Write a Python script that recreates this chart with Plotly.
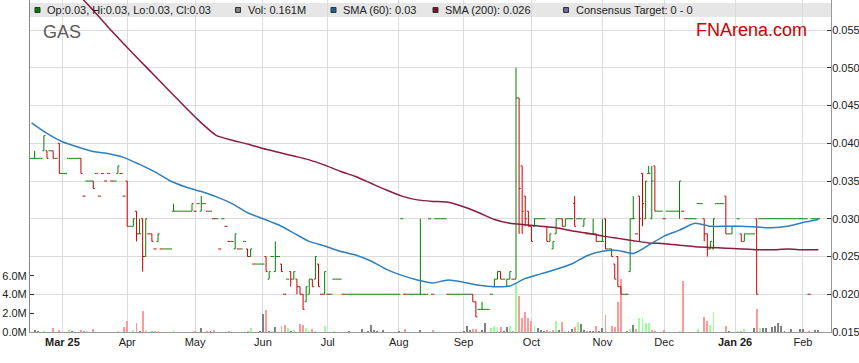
import pandas as pd
import plotly.graph_objects as go

# ---------------- data ----------------
first_day = "2025-02-17"      # first weekday shown; one bar per weekday

opens = [
 .038,.038,.038,.038,.039,  .039,.039,.039,.038,.040,  .036,.036,.038,.038,.038,
 .038,.038,.033,.035,.035,  .035,.036,.033,.036,.035,  .036,.035,.035,.036,.036,
 .033,.035,.029,.029,.031,  .028,.030,.025,.028,.028,  .026,.027,.026,.026,.026,
 .026,.031,.031,.031,.031,  .031,.031,.031,.031,.032,  .031,.032,.031,.031,.030,
 .030,.026,.030,.029,.027,  .027,.026,.026,.026,.027,  .026,.025,.024,.024,.024,
 .024,.025,.022,.025,.023,  .025,.024,.020,.022,.023,  .022,.022,.021,.020,.019,
 .020,.022,.022,.024,.020,  .020,.020,.020,.022,.022,  .022,.020,.020,.020,.020,
 .020,.020,.020,.020,.020,  .020,.020,.020,.020,.020,  .020,.020,.020,.020,.020,
 .030,.020,.020,.020,.020,  .020,.020,.020,.020,.030,  .020,.030,.030,.030,.030,
 .020,.020,.020,.020,.020,  .020,.020,.020,.020,.019,  .018,.018,.018,.018,.020,
 .021,.022,.023,.022,.021,  .022,.022,.022,.046,.037,  .033,.031,.029,.029,.030,
 .030,.030,.029,.027,.026,  .028,.030,.030,.029,.030,  .030,.032,.030,.030,.029,
 .028,.028,.028,.028,.027,  .027,.030,.026,.026,.024,  .025,.021,.020,.020,.023,
 .030,.028,.033,.036,.030,  .036,.030,.037,.031,.031,  .030,.031,.031,.031,.031,
 .031,.031,.030,.030,.030,  .030,.032,.032,.030,.028,  .026,.026,.032,.032,.032,
 .033,.028,.028,.029,.030,  .028,.027,.028,.028,.028,  .030,.030,.030,.030,.030,
 .030,.030,.030,.030,.030,  .030,.030,.030,.030,.030,  .030,.030,.020,.030,.030,
 .030,
]
highs = [
 .038,.039,.038,.038,.041,  .039,.039,.039,.038,.040,  .036,.036,.038,.038,.038,
 .038,.038,.033,.035,.035,  .035,.036,.033,.036,.035,  .036,.035,.035,.037,.036,
 .033,.035,.029,.030,.031,  .030,.030,.030,.028,.028,  .026,.028,.026,.026,.026,
 .026,.032,.031,.031,.031,  .031,.031,.032,.031,.032,  .033,.032,.031,.031,.030,
 .030,.026,.030,.029,.027,  .027,.028,.026,.026,.027,  .026,.026,.024,.024,.024,
 .024,.025,.023,.025,.027,  .025,.024,.020,.022,.023,  .023,.022,.021,.020,.021,
 .022,.022,.025,.024,.020,  .023,.020,.020,.022,.022,  .022,.020,.020,.020,.020,
 .020,.020,.020,.020,.020,  .020,.020,.020,.020,.020,  .020,.020,.020,.020,.020,
 .030,.020,.020,.020,.020,  .020,.030,.020,.020,.030,  .020,.030,.030,.030,.030,
 .020,.020,.020,.020,.020,  .020,.020,.020,.020,.019,  .018,.019,.018,.018,.020,
 .022,.023,.023,.022,.022,  .023,.022,.050,.046,.037,  .033,.031,.029,.030,.030,
 .030,.030,.029,.028,.027,  .030,.030,.030,.030,.030,  .030,.033,.030,.030,.030,
 .028,.028,.030,.028,.027,  .030,.030,.026,.026,.024,  .025,.021,.020,.020,.030,
 .033,.028,.033,.036,.035,  .037,.037,.037,.031,.031,  .030,.031,.031,.031,.031,
 .035,.031,.030,.030,.030,  .030,.032,.032,.030,.028,  .027,.030,.032,.032,.032,
 .033,.028,.029,.029,.030,  .028,.028,.028,.028,.028,  .030,.030,.030,.030,.030,
 .030,.030,.030,.030,.030,  .030,.030,.030,.030,.030,  .030,.030,.020,.030,.030,
 .030,
]
lows = [
 .038,.038,.038,.038,.039,  .038,.039,.038,.038,.036,  .036,.036,.038,.038,.038,
 .038,.036,.033,.035,.035,  .034,.036,.033,.036,.035,  .036,.035,.035,.036,.036,
 .033,.029,.029,.029,.027,  .028,.023,.025,.028,.027,  .026,.027,.026,.026,.026,
 .026,.031,.031,.031,.031,  .031,.031,.031,.031,.032,  .031,.032,.031,.031,.030,
 .030,.026,.030,.029,.027,  .027,.026,.026,.026,.027,  .025,.025,.024,.024,.024,
 .024,.023,.022,.025,.023,  .025,.023,.020,.022,.021,  .022,.020,.020,.018,.019,
 .020,.021,.022,.021,.020,  .020,.020,.020,.022,.022,  .022,.020,.020,.020,.020,
 .020,.020,.020,.020,.020,  .020,.020,.020,.020,.020,  .020,.020,.020,.020,.020,
 .030,.020,.020,.020,.020,  .020,.020,.020,.020,.030,  .020,.030,.030,.030,.030,
 .020,.020,.020,.020,.020,  .020,.020,.020,.019,.017,  .018,.018,.018,.018,.020,
 .021,.022,.022,.022,.021,  .022,.022,.022,.028,.028,  .029,.029,.027,.029,.030,
 .030,.030,.027,.027,.026,  .028,.030,.029,.029,.030,  .030,.029,.030,.030,.029,
 .028,.028,.028,.027,.027,  .027,.026,.026,.025,.022,  .021,.020,.020,.020,.023,
 .030,.028,.027,.029,.030,  .036,.030,.031,.031,.031,  .030,.031,.031,.031,.031,
 .030,.031,.030,.030,.030,  .030,.032,.032,.027,.025,  .026,.026,.032,.032,.032,
 .028,.028,.028,.029,.030,  .027,.027,.028,.028,.028,  .020,.030,.030,.030,.030,
 .030,.030,.030,.030,.030,  .030,.030,.030,.030,.030,  .030,.030,.020,.030,.030,
 .030,
]
closes = [
 .038,.038,.038,.038,.041,  .038,.039,.038,.038,.036,  .036,.036,.038,.038,.038,
 .038,.036,.033,.035,.035,  .034,.036,.033,.036,.035,  .036,.035,.035,.037,.036,
 .033,.029,.029,.030,.028,  .028,.025,.030,.028,.027,  .026,.028,.026,.026,.026,
 .026,.031,.031,.031,.031,  .031,.031,.032,.031,.032,  .032,.032,.031,.031,.030,
 .030,.026,.030,.029,.027,  .027,.028,.026,.026,.027,  .025,.026,.024,.024,.024,
 .024,.023,.023,.025,.025,  .025,.023,.020,.022,.022,  .023,.021,.020,.018,.021,
 .022,.021,.025,.021,.020,  .023,.020,.020,.022,.022,  .022,.020,.020,.020,.020,
 .020,.020,.020,.020,.020,  .020,.020,.020,.020,.020,  .020,.020,.020,.020,.020,
 .030,.020,.020,.020,.020,  .020,.020,.020,.020,.030,  .020,.030,.030,.030,.030,
 .020,.020,.020,.020,.020,  .020,.020,.020,.019,.017,  .018,.018,.018,.018,.020,
 .022,.023,.022,.022,.022,  .023,.022,.046,.034,.031,  .030,.029,.027,.030,.030,
 .030,.030,.027,.028,.027,  .030,.030,.029,.030,.030,  .030,.029,.030,.030,.030,
 .028,.028,.028,.027,.027,  .027,.026,.026,.025,.022,  .021,.020,.020,.020,.030,
 .030,.028,.030,.032,.035,  .036,.035,.031,.031,.031,  .030,.031,.031,.031,.031,
 .035,.031,.030,.030,.030,  .030,.032,.032,.028,.026,  .027,.030,.032,.032,.032,
 .028,.028,.029,.029,.030,  .027,.028,.028,.028,.028,  .020,.030,.030,.030,.030,
 .030,.030,.030,.030,.030,  .030,.030,.030,.030,.030,  .030,.030,.020,.030,.030,
 .030,
]
volume_m = [
 0,.2,.15,0,.15,      0,0,.45,0,.25,       0,0,.25,.15,0,
 0,.25,.15,.15,0,     .3,0,0,0,0,          0,0,0,.1,0,
 .55,1.2,0,.25,1.0,   .1,2.2,.25,0,.15,    .15,.15,0,0,0,
 0,.25,0,0,0,         0,0,0,.1,0,          .45,0,.15,.15,.25,
 0,0,0,0,.15,         0,0,0,0,.1,          .15,.45,0,0,.1,
 1.95,2.35,.15,.15,.55, 0,.65,.8,.45,.15,  .25,0,.9,.7,.4,
 .15,.3,.15,0,0,      .65,0,0,.1,0,        0,0,0,.1,0,
 0,0,.3,0,.1,         .75,.2,.15,0,.2,     0,0,0,0,.1,
 0,.3,0,0,0,          0,.25,0,0,0,         .2,0,0,0,0,
 0,0,0,0,0,           .1,.65,.25,.35,.3,   0,.2,.95,0,.45,
 .65,.55,.5,.15,.55,  .65,.15,5.2,3.8,1.55, 2.15,1.55,1.2,.65,.4,
 .2,.15,.2,.1,.2,     1.2,.2,1.1,.1,.15,   .3,.55,1.1,.85,.25,
 .15,.15,.1,.65,.15,  .45,1.8,0,.65,.55,   3.2,5.7,0,.15,.3,
 .8,.3,1.5,1.55,1.0,  1.0,.2,.1,0,0,       .2,0,0,0,0,
 .1,5.5,0,0,0,        0,.3,0,1.6,1.2,      .75,2.1,0,0,0,
 .65,.1,0,0,.1,       .15,.3,0,0,.4,       2.45,.4,.45,.4,0,
 .55,.6,.95,.6,.15,   0,.3,0,0,.35,        .35,0,.1,0,.2,
 .161,
]
# moving averages, one value per Monday
sma60 = [
 .0427,.0413,.0402,.0395,.0389,.0386,.0381,.0372,.0362,.0350,.0342,.0336,.0329,
 .0320,.0308,.0300,.0292,.0281,.0270,.0264,.0257,.0252,.0244,.0233,.0225,.0219,
 .0215,.0219,.0216,.0212,.0210,.0211,.0221,.0227,.0233,.0240,.0251,.0257,.0258,
 .0254,.0265,.0277,.0285,.0294,.0290,.0290,.0290,.0289,.0288,.0290,.0295,.0299,
]
sma200 = [
 .0668,.0645,.0621,.0598,.0576,.0553,.0531,.0510,.0489,.0468,.0447,.0427,.0410,
 .0404,.0399,.0393,.0388,.0383,.0378,.0371,.0363,.0356,.0347,.0338,.0330,.0325,
 .0323,.0322,.0316,.0308,.0299,.0294,.0292,.0290,.0288,.0284,.0281,.0277,.0274,
 .0271,.0268,.0267,.0265,.0263,.0262,.0261,.0260,.0259,.0259,.0260,.0259,.0259,
]
month_ticks = ["2025-03-03", "2025-04-01", "2025-05-01", "2025-06-02", "2025-07-01",
               "2025-08-01", "2025-09-01", "2025-10-01", "2025-11-03", "2025-12-01",
               "2026-01-01", "2026-02-02"]
month_labels = ["<b>Mar 25</b>", "Apr", "May", "Jun", "Jul", "Aug", "Sep", "Oct",
                "Nov", "Dec", "<b>Jan 26</b>", "Feb"]
vol_ticks = [0, 2, 4, 6]
vol_tick_labels = ["0.0M", "2.0M", "4.0M", "6.0M"]
ticker = "GAS"

# ---------------- styling ----------------
GREEN, RED = "#008000", "#cc0000"
VOL_UP, VOL_DN, VOL_EQ = "#99ff99", "#ff9999", "#808080"
BLUE, MAROON = "#2f7fbf", "#8c1c3f"
GRID = "#dcdcdc"
FONT = "Liberation Sans, Arial, sans-serif"

dates = pd.bdate_range(first_day, periods=len(closes)).strftime("%Y-%m-%d 12:00").tolist()
sma_dates = dates[::5]
tick_pos = [d + " 12:00" for d in month_ticks]

# bar / volume colours from the price changes
up_idx, dn_idx, vol_cols = [], [], []
prev = None
for k, (o, c) in enumerate(zip(opens, closes)):
    if c > o:
        up = True
    elif c < o:
        up = False
    else:
        up = prev is None or c >= prev
    (up_idx if up else dn_idx).append(k)
    if prev is None or c == prev:
        vol_cols.append(VOL_EQ)
    elif c > prev:
        vol_cols.append(VOL_UP)
    else:
        vol_cols.append(VOL_DN)
    prev = c

fig = go.Figure()
fig.add_trace(go.Bar(x=dates, y=volume_m, marker=dict(color=vol_cols, line=dict(width=0)),
                     width=0.62 * 86400000, yaxis="y", showlegend=False, hoverinfo="skip"))


def ohlc(idx, col):
    return go.Ohlc(x=[dates[k] for k in idx], open=[opens[k] for k in idx],
                   high=[highs[k] for k in idx], low=[lows[k] for k in idx],
                   close=[closes[k] for k in idx], yaxis="y2", tickwidth=0.5,
                   increasing=dict(line=dict(color=col, width=1)),
                   decreasing=dict(line=dict(color=col, width=1)),
                   showlegend=False, hoverinfo="skip")


fig.add_trace(ohlc(up_idx, GREEN))
fig.add_trace(ohlc(dn_idx, RED))
fig.add_trace(go.Scatter(x=sma_dates, y=sma200, mode="lines", yaxis="y2",
                         line=dict(color=MAROON, width=1.5, shape="spline", smoothing=0.5),
                         showlegend=False, hoverinfo="skip"))
fig.add_trace(go.Scatter(x=sma_dates, y=sma60, mode="lines", yaxis="y2",
                         line=dict(color=BLUE, width=1.5, shape="spline", smoothing=0.6),
                         showlegend=False, hoverinfo="skip"))

W, H = 859, 363
L, R, T, B = 30, 28, 0, 31
PW, PH = W - L - R, H - T - B


def px(xp):
    return (xp - L) / PW


def py(yp):
    return 1 - (yp - T) / PH


shapes = [dict(type="rect", xref="paper", yref="paper", x0=0, x1=1, y0=py(17), y1=py(3),
               fillcolor="#e6e6e6", line=dict(width=0), layer="between")]
annotations = []
legend_items = [
    (35, GREEN, "Op:%g, Hi:%g, Lo:%g, Cl:%g" % (opens[-1], highs[-1], lows[-1], closes[-1])),
    (235.5, "#808080", "Vol: %gM" % volume_m[-1]),
    (331, "#1f5f9a", "SMA (60): %g" % round(sma60[-1], 3)),
    (433, "#7a1030", "SMA (200): %g" % round(sma200[-1], 3)),
    (563.5, "#6a6a9a", "Consensus Target: 0 - 0"),
]
for x0, col, txt in legend_items:
    shapes.append(dict(type="rect", xref="paper", yref="paper", x0=px(x0), x1=px(x0 + 5),
                       y0=py(12.5), y1=py(7.5), fillcolor=col,
                       line=dict(color="#333333", width=1), layer="above"))
    annotations.append(dict(xref="paper", yref="paper", x=px(x0 + 10), y=py(10.2),
                            xanchor="left", yanchor="middle", text=txt, showarrow=False,
                            font=dict(family=FONT, size=11, color="#222222")))
annotations.append(dict(xref="paper", yref="paper", x=px(41), y=py(32), xanchor="left",
                        yanchor="middle", text=ticker, showarrow=False,
                        font=dict(family=FONT, size=18, color="#5a5a5a")))
annotations.append(dict(xref="paper", yref="paper", x=px(809), y=py(29.5), xanchor="right",
                        yanchor="middle", text="FNArena.com", showarrow=False,
                        font=dict(family=FONT, size=18, color="#cc0000")))

fig.update_layout(
    width=W, height=H, margin=dict(l=L, r=R, t=T, b=B, pad=0),
    paper_bgcolor="white", plot_bgcolor="white",
    font=dict(family=FONT, size=11, color="#222222"),
    showlegend=False, bargap=0,
    xaxis=dict(type="date", range=["2025-02-17 00:00", "2026-02-13 14:00"],
               rangebreaks=[dict(bounds=["sat", "mon"])],
               rangeslider=dict(visible=False),
               tickvals=tick_pos, ticktext=month_labels,
               showgrid=True, gridcolor=GRID, gridwidth=1,
               showline=True, linecolor="#999999", linewidth=1,
               ticks="", zeroline=False, tickfont=dict(size=11, color="#222222")),
    yaxis=dict(range=[0, PH / 9.35], tickvals=vol_ticks, ticktext=vol_tick_labels,
               showgrid=False, zeroline=False, side="left",
               showline=True, linecolor="#888888", linewidth=1,
               ticks="inside", ticklen=4, tickcolor="#333333",
               tickfont=dict(size=11, color="#222222")),
    yaxis2=dict(range=[0.015, 0.015 + PH * 0.005 / 37.75], overlaying="y", side="right",
                tick0=0.015, dtick=0.005, tickformat=".3f", showgrid=True,
                gridcolor=GRID, gridwidth=1, zeroline=False,
                showline=True, linecolor="#999999", linewidth=1,
                ticks="inside", ticklen=4, tickcolor="#333333", ticklabelstandoff=-2,
                tickfont=dict(size=11, color="#222222")),
    shapes=shapes, annotations=annotations,
)

fig.write_html("out.html", config={"displayModeBar": False, "staticPlot": True},
               post_script="document.body.style.margin='0';document.body.style.overflow='hidden';")
